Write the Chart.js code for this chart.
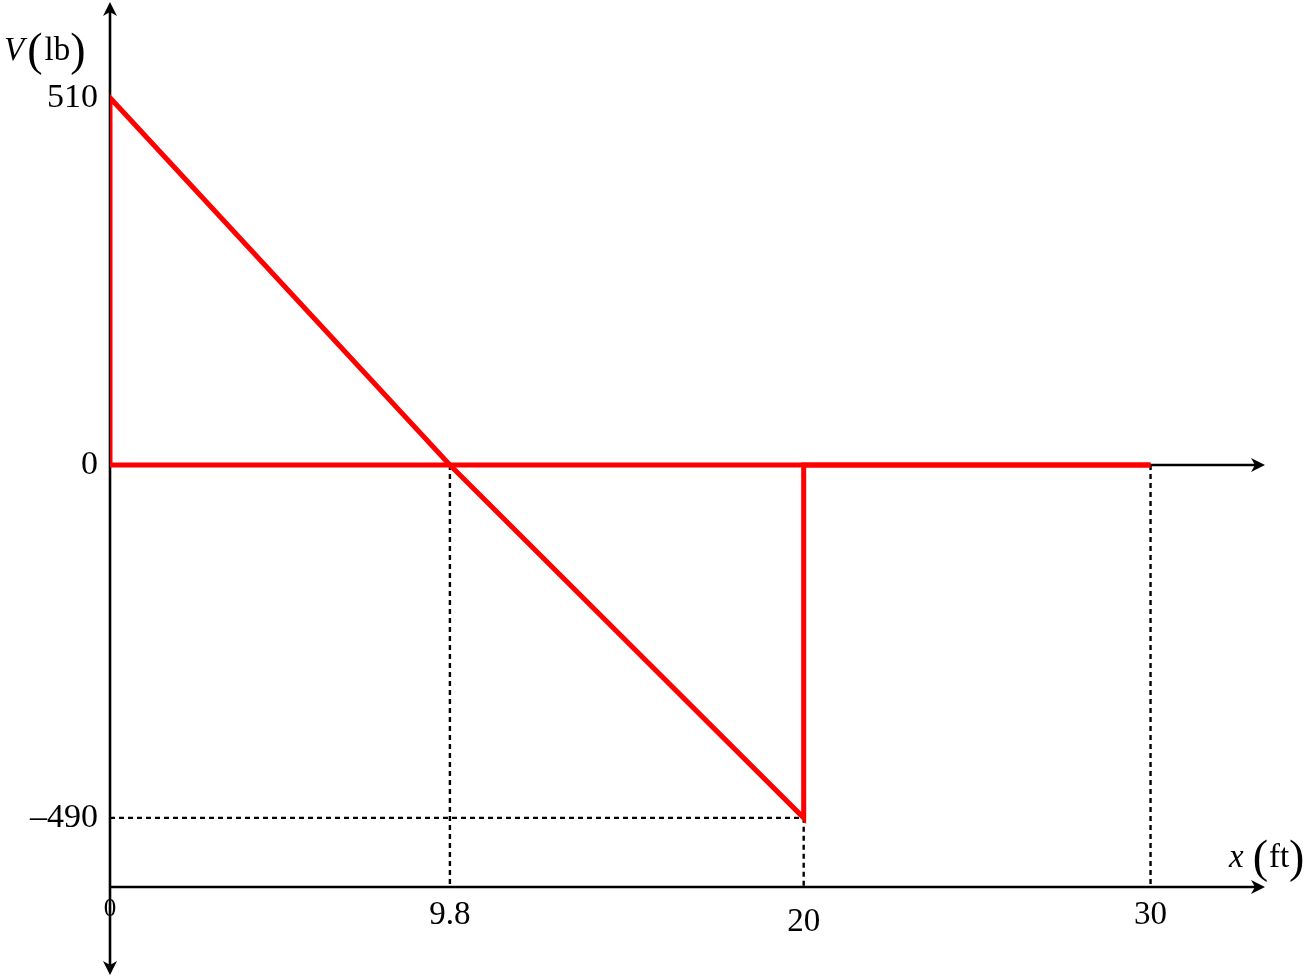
<!DOCTYPE html>
<html><head><meta charset="utf-8">
<script src="https://cdn.jsdelivr.net/npm/chart.js@4.4.1/dist/chart.umd.min.js"></script>
<style>html,body{margin:0;padding:0;background:#fff;}#wrap{width:1304px;height:978px;position:relative;}</style>
</head><body><div id="wrap"><canvas id="c"></canvas></div>
<script>
// ---- data ----
const positionsFt = [0, 0, 9.8, 20, 20, 30];
const shearLb = [0, 510, 0, -490, 0, 0];
const xTickValues = [0, 9.8, 20, 30];
const yTickValues = [510, 0, -490];
const yTitleParts = ['V', 'lb'];
const xTitleParts = ['x', 'ft'];

const SERIF = '"Liberation Serif", "Times New Roman", serif';
const RED = '#ff0000';

function fmt(v){ return v < 0 ? '\u2013' + Math.abs(v) : String(v); }

function arrow(ctx, tx, ty, ang){
  const L = 14, W = 7, N = 4;
  ctx.save();
  ctx.translate(tx, ty); ctx.rotate(ang);
  ctx.beginPath();
  ctx.moveTo(0, 0);
  ctx.lineTo(-L, -W);
  ctx.lineTo(-L + N, 0);
  ctx.lineTo(-L, W);
  ctx.closePath();
  ctx.fillStyle = '#000'; ctx.fill();
  ctx.restore();
}
function seg(ctx, x1, y1, x2, y2){ ctx.beginPath(); ctx.moveTo(x1, y1); ctx.lineTo(x2, y2); ctx.stroke(); }

const axesPlugin = {
  id: 'axesLines',
  beforeDatasetsDraw(chart){
    const {ctx, chartArea: a, scales: {x, y}} = chart;
    const x0 = x.getPixelForValue(0), y0 = y.getPixelForValue(0);
    ctx.save();
    // dashed guides
    ctx.strokeStyle = '#000'; ctx.lineWidth = 2.4; ctx.setLineDash([5, 4]);
    xTickValues.forEach(t => {
      if (t === 0) return;
      const vals = shearLb.filter((v, i) => positionsFt[i] === t);
      const low = Math.min(0, ...(vals.length ? vals : [0]));
      seg(ctx, x.getPixelForValue(t), y.getPixelForValue(low), x.getPixelForValue(t), a.bottom);
    });
    yTickValues.forEach(v => {
      if (v >= 0) return;
      const i = shearLb.indexOf(v);
      if (i < 0) return;
      seg(ctx, x0, y.getPixelForValue(v), x.getPixelForValue(positionsFt[i]), y.getPixelForValue(v));
    });
    ctx.setLineDash([]);
    // solid axes
    ctx.lineWidth = 2.6;
    const yBottom = a.bottom + 88;
    seg(ctx, x0, yBottom - 4, x0, a.top + 4);
    arrow(ctx, x0, a.top, -Math.PI / 2);
    arrow(ctx, x0, yBottom, Math.PI / 2);
    seg(ctx, x0, y0, a.right - 4, y0);
    arrow(ctx, a.right, y0, 0);
    seg(ctx, x0, a.bottom, a.right - 4, a.bottom);
    arrow(ctx, a.right, a.bottom, 0);
    ctx.restore();
  },
  afterDraw(chart){
    const {ctx} = chart;
    ctx.save();
    ctx.fillStyle = '#000'; ctx.textBaseline = 'alphabetic'; ctx.textAlign = 'left';
    function title(parts, sx, base){
      let cx = sx;
      parts.forEach(p => {
        ctx.font = p.font;
        ctx.fillText(p.text, cx, base + (p.dy || 0));
        cx += ctx.measureText(p.text).width + (p.gap || 0);
      });
    }
    const ital = 'italic 33px ' + SERIF, reg = '33px ' + SERIF, par = '46px ' + SERIF;
    title([
      {text: yTitleParts[0], font: ital, gap: 3},
      {text: '(', font: par, dy: 5, gap: 2},
      {text: yTitleParts[1], font: reg, gap: 0},
      {text: ')', font: par, dy: 5}
    ], 4, 60);
    title([
      {text: xTitleParts[0], font: ital, gap: 9},
      {text: '(', font: par, dy: 5, gap: 1},
      {text: xTitleParts[1], font: reg, gap: 0},
      {text: ')', font: par, dy: 5}
    ], 1229, 867);
    ctx.restore();
  }
};

new Chart(document.getElementById('c'), {
  type: 'line',
  data: {
    datasets: [
      {
        data: positionsFt.map((p, i) => ({x: p, y: shearLb[i]})),
        borderColor: RED, borderWidth: 5, pointRadius: 0, tension: 0, fill: false,
        borderJoinStyle: 'miter', order: 1
      },
      {
        data: [{x: positionsFt[0], y: 0}, {x: positionsFt[positionsFt.length - 1], y: 0}],
        borderColor: RED, borderWidth: 5, pointRadius: 0, tension: 0, fill: false, order: 2
      }
    ]
  },
  options: {
    responsive: true, maintainAspectRatio: false, animation: false,
    layout: {padding: {left: 0, right: 39, top: 2, bottom: 0}},
    plugins: {legend: {display: false}, tooltip: {enabled: false}},
    scales: {
      x: {
        type: 'linear', min: 0, max: 33.3,
        grid: {display: false, drawTicks: false}, border: {display: false},
        afterBuildTicks: s => { s.ticks = xTickValues.map(v => ({value: v})); },
        afterFit: s => { s.height = 91; s.paddingLeft = 0; s.paddingRight = 0; },
        ticks: {
          autoSkip: false, maxRotation: 0, padding: 9, color: '#000',
          callback: v => fmt(v),
          font: c => {
            const v = c.tick ? c.tick.value : null;
            if (v === 0) return {family: SERIF, size: 25, lineHeight: 1.05};
            if (v === 20) return {family: SERIF, size: 33, lineHeight: 1.6};
            return {family: SERIF, size: 33, lineHeight: 1.2};
          }
        }
      },
      y: {
        type: 'linear', min: -586, max: 643,
        grid: {display: false, drawTicks: false}, border: {display: false},
        afterBuildTicks: s => { s.ticks = yTickValues.map(v => ({value: v})); },
        afterFit: s => { s.width = 110; s.paddingTop = 0; s.paddingBottom = 0; },
        ticks: {
          autoSkip: false, padding: 12, color: '#000',
          callback: v => fmt(v),
          font: {family: SERIF, size: 34}
        }
      }
    }
  },
  plugins: [axesPlugin]
});
</script>
</body></html>
